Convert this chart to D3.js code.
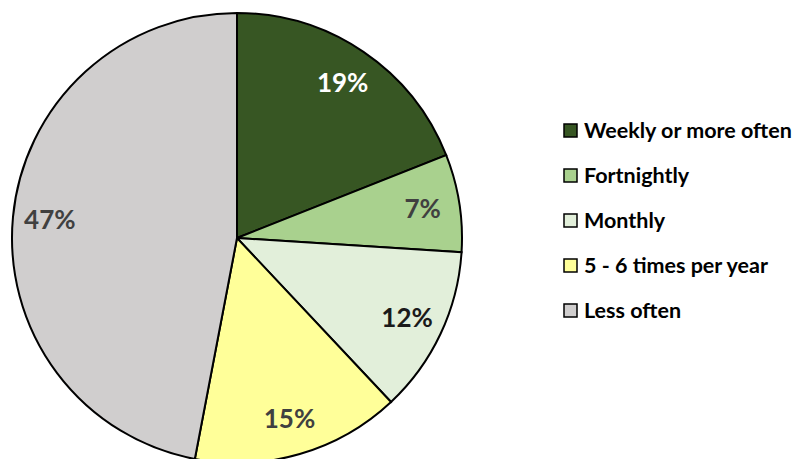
<!DOCTYPE html>
<html>
<head>
<meta charset="UTF-8">
<title>Frequency</title>
<script src="https://cdn.jsdelivr.net/npm/d3@7/dist/d3.min.js"></script>
<style type="text/css">
body { margin: 0; background: #fff; }
svg { display: block; }
.slice path { stroke: #000; stroke-width: 2; }
.slice text { font: bold 26px Lato, "Open Sans", sans-serif; text-anchor: middle; }
.legend text { font: bold 21.5px Lato, "Open Sans", sans-serif; fill: #000; }
</style>
</head>
<body>
<div class="chart"></div>
<script>
// pie data, clockwise from 12 o'clock
var categories = ["Weekly or more often", "Fortnightly", "Monthly", "5 - 6 times per year", "Less often"];
var shares     = [19, 7, 12, 15, 47];
var colours    = ["#375623", "#a9d18e", "#e2efda", "#ffff99", "#d0cece"];
var labelCols  = ["#ffffff", "#404040", "#1a1a1a", "#404040", "#404040"];

var width = 803, height = 459;
var radius = 225;

var svg = d3.select(".chart").append("svg")
    .attr("width", width)
    .attr("height", height);

var group = svg.append("g")
    .attr("transform", "translate(237,238)");

var arc = d3.arc().innerRadius(0).outerRadius(radius);
var labelArc = d3.arc().innerRadius(188).outerRadius(188);

var pie = d3.pie().sort(null).value(function (d) { return d; });

var slices = group.selectAll(".slice")
    .data(pie(shares))
    .enter()
    .append("g")
    .attr("class", "slice");

slices.append("path")
    .attr("d", arc)
    .attr("fill", function (d, i) { return colours[i]; });

slices.append("text")
    .attr("transform", function (d) { return "translate(" + labelArc.centroid(d) + ")"; })
    .attr("dy", "0.35em")
    .attr("fill", function (d, i) { return labelCols[i]; })
    .text(function (d) { return d.data + "%"; });

var legend = svg.append("g").attr("class", "legend")
    .selectAll("g")
    .data(categories)
    .enter()
    .append("g")
    .attr("transform", function (d, i) { return "translate(564," + (130 + i * 45) + ")"; });

legend.append("rect")
    .attr("x", 0).attr("y", -6)
    .attr("width", 13).attr("height", 13)
    .attr("fill", function (d, i) { return colours[i]; })
    .attr("stroke", "#000")
    .attr("stroke-width", 1.5);

legend.append("text")
    .attr("x", 20)
    .attr("dy", "0.35em")
    .text(function (d) { return d; });
</script>
</body>
</html>
